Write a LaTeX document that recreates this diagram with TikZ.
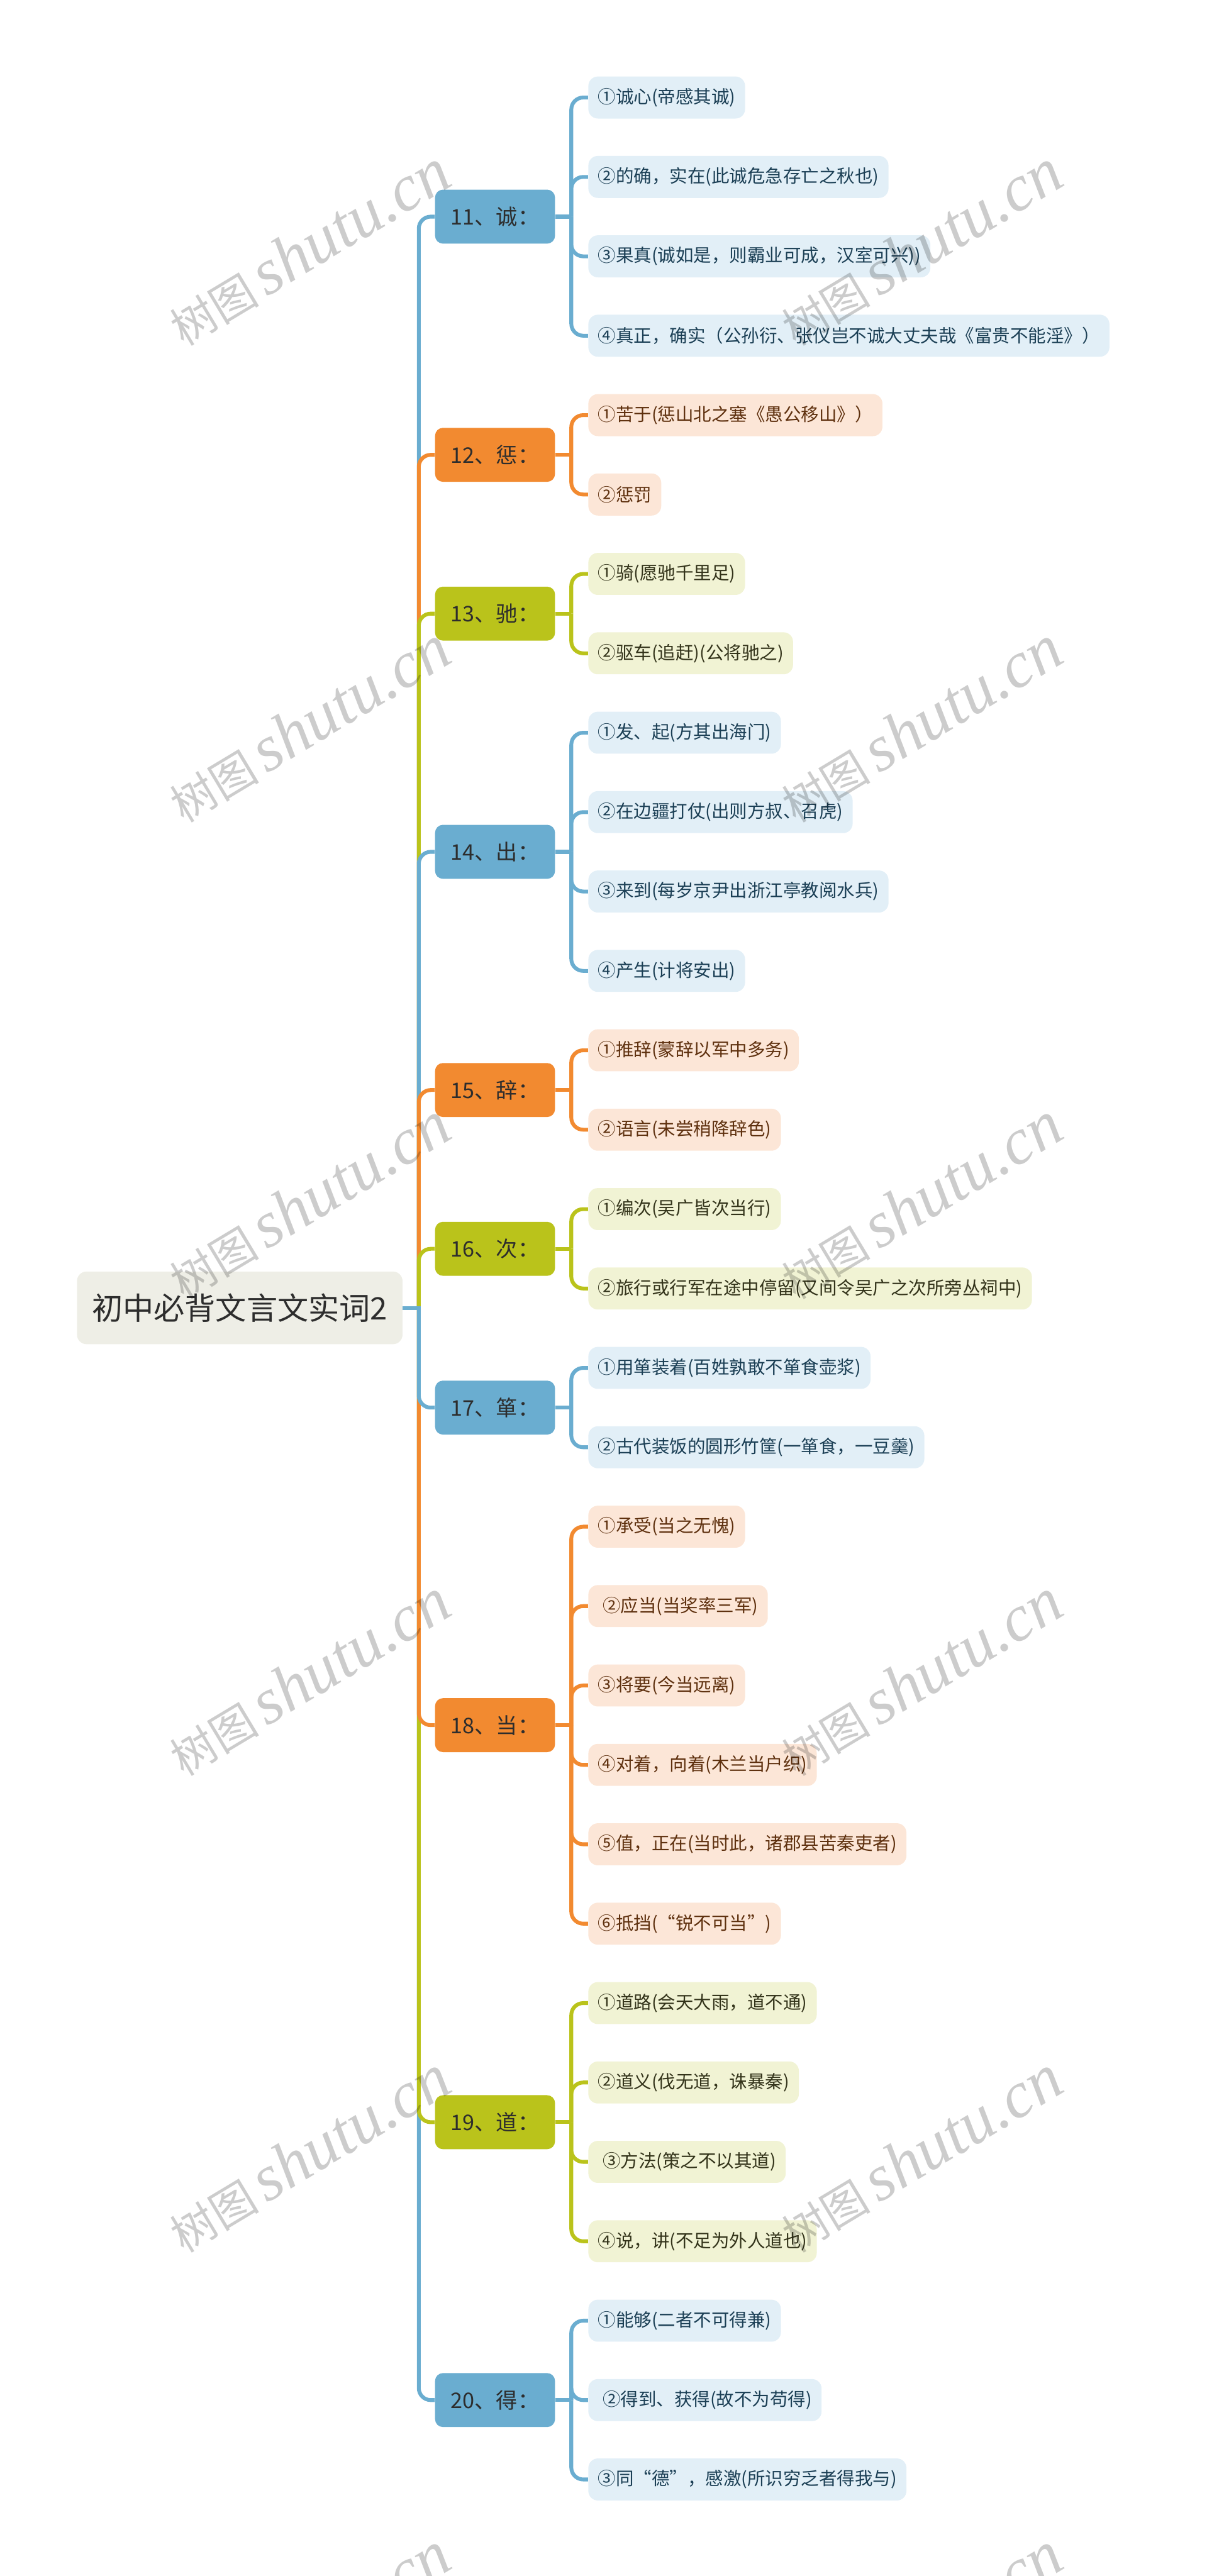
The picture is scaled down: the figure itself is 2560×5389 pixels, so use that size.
\documentclass[tikz,border=0pt]{standalone}
\usepackage{fontspec}
\newfontfamily\cjk{Noto Sans CJK SC}
\newfontfamily\wmlat{Liberation Serif}
\usetikzlibrary{backgrounds}
\definecolor{bMain}{HTML}{6AADD0}
\definecolor{oMain}{HTML}{F28A30}
\definecolor{gMain}{HTML}{BAC31B}
\definecolor{bLeaf}{HTML}{E2EFF7}
\definecolor{oLeaf}{HTML}{FCE6D7}
\definecolor{gLeaf}{HTML}{F1F3D4}
\definecolor{bText}{HTML}{1B3F55}
\definecolor{oText}{HTML}{5E300E}
\definecolor{gText}{HTML}{33331A}
\definecolor{rootFill}{HTML}{EEEEE6}
\definecolor{txtDark}{HTML}{2D2D2D}
\tikzset{
  rootbox/.style={fill=rootFill, text=txtDark, rounded corners=6pt, minimum width=204.3pt, minimum height=45.6pt, inner sep=0pt, font=\cjk\fontsize{19.4pt}{22pt}\selectfont},
  catbox/.style={rounded corners=5pt, minimum width=75.3pt, minimum height=33.9pt, inner sep=0pt, text=txtDark, font=\cjk\fontsize{13.5pt}{16pt}\selectfont},
  catB/.style={catbox, fill=bMain}, catO/.style={catbox, fill=oMain}, catG/.style={catbox, fill=gMain},
  leafbox/.style={anchor=west, rounded corners=6pt, minimum height=26.4pt, inner xsep=6pt, inner ysep=0pt, font=\cjk\fontsize{11.25pt}{14pt}\selectfont},
  leafB/.style={leafbox, fill=bLeaf, text=bText},
  leafO/.style={leafbox, fill=oLeaf, text=oText},
  leafG/.style={leafbox, fill=gLeaf, text=gText},
  linkbase/.style={line width=2.4pt},
  linkB/.style={linkbase, draw=bMain}, linkO/.style={linkbase, draw=oMain}, linkG/.style={linkbase, draw=gMain},
  rc/.style={rounded corners=7.5pt},
  wmark/.style={rotate=31, text=black, text opacity=0.2, inner sep=0pt},
}
\newcommand{\wmtext}{{\cjk\fontsize{28pt}{30pt}\selectfont 树图}\hspace{5pt}{\wmlat\itshape\fontsize{41pt}{44pt}\selectfont shutu.cn}}
\begin{document}
\begin{tikzpicture}[x=0.3pt,y=-0.3pt]
\useasboundingbox (0,0) rectangle (2560,5389);
% root
\node[rootbox] (root) at (501.5,2736) {初中必背文言文实词2};
% categories
\node[catB] (c11) at (1035.5,453.2) {11、诚：};
\node[catO] (c12) at (1035.5,951.5) {12、惩：};
\node[catG] (c13) at (1035.5,1283.7) {13、驰：};
\node[catB] (c14) at (1035.5,1782) {14、出：};
\node[catO] (c15) at (1035.5,2280.3) {15、辞：};
\node[catG] (c16) at (1035.5,2612.5) {16、次：};
\node[catB] (c17) at (1035.5,2944.7) {17、箪：};
\node[catO] (c18) at (1035.5,3609) {18、当：};
\node[catG] (c19) at (1035.5,4439.6) {19、道：};
\node[catB] (c20) at (1035.5,5020.9) {20、得：};
% leaves
\node[leafB] (l11a) at (1230,204) {①诚心(帝感其诚)};
\node[leafB] (l11b) at (1230,370.1) {②的确，实在(此诚危急存亡之秋也)};
\node[leafB] (l11c) at (1230,536.2) {③果真(诚如是，则霸业可成，汉室可兴))};
\node[leafB] (l11d) at (1230,702.3) {④真正，确实（公孙衍、张仪岂不诚大丈夫哉《富贵不能淫》）};
\node[leafO] (l12a) at (1230,868.4) {①苦于(惩山北之塞《愚公移山》）};
\node[leafO] (l12b) at (1230,1034.5) {②惩罚};
\node[leafG] (l13a) at (1230,1200.6) {①骑(愿驰千里足)};
\node[leafG] (l13b) at (1230,1366.7) {②驱车(追赶)(公将驰之)};
\node[leafB] (l14a) at (1230,1532.8) {①发、起(方其出海门)};
\node[leafB] (l14b) at (1230,1698.9) {②在边疆打仗(出则方叔、召虎)};
\node[leafB] (l14c) at (1230,1865) {③来到(每岁京尹出浙江亭教阅水兵)};
\node[leafB] (l14d) at (1230,2031.1) {④产生(计将安出)};
\node[leafO] (l15a) at (1230,2197.2) {①推辞(蒙辞以军中多务)};
\node[leafO] (l15b) at (1230,2363.3) {②语言(未尝稍降辞色)};
\node[leafG] (l16a) at (1230,2529.4) {①编次(吴广皆次当行)};
\node[leafG] (l16b) at (1230,2695.5) {②旅行或行军在途中停留(又间令吴广之次所旁丛祠中)};
\node[leafB] (l17a) at (1230,2861.6) {①用箪装着(百姓孰敢不箪食壶浆)};
\node[leafB] (l17b) at (1230,3027.7) {②古代装饭的圆形竹筐(一箪食，一豆羹)};
\node[leafO] (l18a) at (1230,3193.8) {①承受(当之无愧)};
\node[leafO] (l18b) at (1230,3359.9) {\hspace*{3pt}②应当(当奖率三军)};
\node[leafO] (l18c) at (1230,3526) {③将要(今当远离)};
\node[leafO] (l18d) at (1230,3692.1) {④对着，向着(木兰当户织)};
\node[leafO] (l18e) at (1230,3858.2) {⑤值，正在(当时此，诸郡县苦秦吏者)};
\node[leafO] (l18f) at (1230,4024.3) {⑥抵挡(“锐不可当”)};
\node[leafG] (l19a) at (1230,4190.4) {①道路(会天大雨，道不通)};
\node[leafG] (l19b) at (1230,4356.5) {②道义(伐无道，诛暴秦)};
\node[leafG] (l19c) at (1230,4522.6) {\hspace*{3pt}③方法(策之不以其道)};
\node[leafG] (l19d) at (1230,4688.7) {④说，讲(不足为外人道也)};
\node[leafB] (l20a) at (1230,4854.8) {①能够(二者不可得兼)};
\node[leafB] (l20b) at (1230,5020.9) {\hspace*{3pt}②得到、获得(故不为苟得)};
\node[leafB] (l20c) at (1230,5187) {③同“德”，感激(所识穷乏者得我与)};
% junction coordinates
\coordinate (tj) at (876,2736);
\coordinate (j11) at (1195,453.2);
\coordinate (j12) at (1195,951.5);
\coordinate (j13) at (1195,1283.7);
\coordinate (j14) at (1195,1782);
\coordinate (j15) at (1195,2280.3);
\coordinate (j16) at (1195,2612.5);
\coordinate (j17) at (1195,2944.7);
\coordinate (j18) at (1195,3609);
\coordinate (j19) at (1195,4439.6);
\coordinate (j20) at (1195,5020.9);
\begin{pgfonlayer}{background}
% trunk: far branches first
\draw[linkB, rc] (tj) |- (c11.west);
\draw[linkO, rc] (tj) |- (c12.west);
\draw[linkG, rc] (tj) |- (c13.west);
\draw[linkB, rc] (tj) |- (c14.west);
\draw[linkO, rc] (tj) |- (c15.west);
\draw[linkG, rc] (tj) |- (c16.west);
\draw[linkB, rc] (tj) |- (c20.west);
\draw[linkG, rc] (tj) |- (c19.west);
\draw[linkO, rc] (tj) |- (c18.west);
\draw[linkB, rc] (tj) |- (c17.west);
\draw[linkB] (root.east) -- (tj) -- ++(0,6);
% group 11
\draw[linkB] (c11.east) -- (j11);
\draw[linkB, rc] (j11) |- (l11a.west);
\draw[linkB, rc] (j11) |- (l11b.west);
\draw[linkB, rc] (j11) |- (l11c.west);
\draw[linkB, rc] (j11) |- (l11d.west);
% group 12
\draw[linkO] (c12.east) -- (j12);
\draw[linkO, rc] (j12) |- (l12a.west);
\draw[linkO, rc] (j12) |- (l12b.west);
% group 13
\draw[linkG] (c13.east) -- (j13);
\draw[linkG, rc] (j13) |- (l13a.west);
\draw[linkG, rc] (j13) |- (l13b.west);
% group 14
\draw[linkB] (c14.east) -- (j14);
\draw[linkB, rc] (j14) |- (l14a.west);
\draw[linkB, rc] (j14) |- (l14b.west);
\draw[linkB, rc] (j14) |- (l14c.west);
\draw[linkB, rc] (j14) |- (l14d.west);
% group 15
\draw[linkO] (c15.east) -- (j15);
\draw[linkO, rc] (j15) |- (l15a.west);
\draw[linkO, rc] (j15) |- (l15b.west);
% group 16
\draw[linkG] (c16.east) -- (j16);
\draw[linkG, rc] (j16) |- (l16a.west);
\draw[linkG, rc] (j16) |- (l16b.west);
% group 17
\draw[linkB] (c17.east) -- (j17);
\draw[linkB, rc] (j17) |- (l17a.west);
\draw[linkB, rc] (j17) |- (l17b.west);
% group 18
\draw[linkO] (c18.east) -- (j18);
\draw[linkO, rc] (j18) |- (l18a.west);
\draw[linkO, rc] (j18) |- (l18b.west);
\draw[linkO, rc] (j18) |- (l18c.west);
\draw[linkO, rc] (j18) |- (l18d.west);
\draw[linkO, rc] (j18) |- (l18e.west);
\draw[linkO, rc] (j18) |- (l18f.west);
% group 19
\draw[linkG] (c19.east) -- (j19);
\draw[linkG, rc] (j19) |- (l19a.west);
\draw[linkG, rc] (j19) |- (l19b.west);
\draw[linkG, rc] (j19) |- (l19c.west);
\draw[linkG, rc] (j19) |- (l19d.west);
% group 20
\draw[linkB] (c20.east) -- (j20);
\draw[linkB, rc] (j20) |- (l20a.west);
\draw[linkB, rc] (j20) |- (l20b.west);
\draw[linkB, rc] (j20) |- (l20c.west);
\end{pgfonlayer}
% watermarks
\node[wmark] (w1) at (646,518) {\wmtext};
\node[wmark] (w2) at (1926,518) {\wmtext};
\node[wmark] (w3) at (646,1515) {\wmtext};
\node[wmark] (w4) at (1926,1515) {\wmtext};
\node[wmark] (w5) at (646,2512) {\wmtext};
\node[wmark] (w6) at (1926,2512) {\wmtext};
\node[wmark] (w7) at (646,3509) {\wmtext};
\node[wmark] (w8) at (1926,3509) {\wmtext};
\node[wmark] (w9) at (646,4506) {\wmtext};
\node[wmark] (w10) at (1926,4506) {\wmtext};
\node[wmark] (w11) at (646,5503) {\wmtext};
\node[wmark] (w12) at (1926,5503) {\wmtext};
\end{tikzpicture}
\end{document}
